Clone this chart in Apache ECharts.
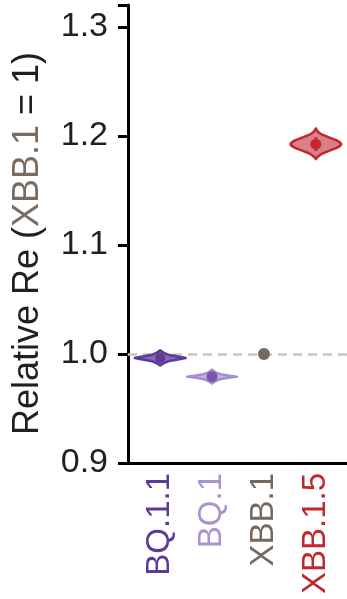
<!DOCTYPE html>
<html>
<head>
<meta charset="utf-8">
<script src="https://cdn.jsdelivr.net/npm/echarts@6/dist/echarts.min.js"></script>
<style>html,body{margin:0;padding:0;background:#fff;}#c{width:347px;height:599px;}</style>
</head>
<body>
<div id="c"></div>
<script>
const categories = ['BQ.1.1', 'BQ.1', 'XBB.1', 'XBB.1.5'];
const catColors = ['#5b3a9a', '#a994cd', '#76685c', '#c1272d'];
const medians = [0.9963, 0.9792, 1.0000, 1.1924];
const intervalLow = [0.9930, 0.9760, 1.0000, 1.1862];
const intervalHigh = [0.9995, 0.9825, 1.0000, 1.1988];
const yTicks = [0.9, 1.0, 1.1, 1.2, 1.3];

// violin profiles: y values and half-widths (category units)
const violinBQ11Y = [1.0033, 1.0010, 0.9990, 0.9977, 0.9963, 0.9949, 0.9936, 0.9916, 0.9895];
const violinBQ11W = [0, 0.07, 0.18, 0.34, 0.49, 0.34, 0.18, 0.07, 0];
const violinBQ1Y = [0.9856, 0.9834, 0.9815, 0.9803, 0.9792, 0.9781, 0.9769, 0.9750, 0.9728];
const violinBQ1W = [0, 0.06, 0.16, 0.31, 0.48, 0.31, 0.16, 0.06, 0];
const violinXBB15Y = [1.2068, 1.2043, 1.2016, 1.1988, 1.1961, 1.1942, 1.1924, 1.1906, 1.1887, 1.1860, 1.1832, 1.1805, 1.1787];
const violinXBB15W = [0, 0.03, 0.10, 0.24, 0.39, 0.46, 0.49, 0.46, 0.39, 0.24, 0.10, 0.03, 0];

const violinY = [violinBQ11Y, violinBQ1Y, null, violinXBB15Y];
const violinW = [violinBQ11W, violinBQ1W, null, violinXBB15W];
const violinFill = ['rgba(91,58,154,0.75)', 'rgba(176,157,210,0.8)', null, 'rgba(200,60,66,0.65)'];
const violinStroke = ['#5b3a9a', '#a48fcc', null, '#c1272d'];
const innerColor = ['#5b3a9a', '#7656ae', '#76685c', '#c1272d'];
const pointSize = [10, 11, 12, 11];

const font = "'Liberation Sans', Arial, sans-serif";
const chart = echarts.init(document.getElementById('c'));

const richX = {};
categories.forEach((c, i) => { richX['c' + i] = { color: catColors[i], fontSize: 33, fontFamily: font }; });

chart.setOption({
  animation: false,
  grid: { left: 128, right: 0, top: 5, bottom: 136 },
  xAxis: {
    type: 'value', min: -0.62, max: 3.6,
    splitLine: { show: false },
    axisTick: { show: false },
    axisLine: { show: true, onZero: false, lineStyle: { color: '#000', width: 3 } },
    axisLabel: {
      customValues: [0, 1, 2, 3],
      rotate: 90, margin: 10,
      formatter: v => { const i = Math.round(v); return '{c' + i + '|' + categories[i] + '}'; },
      rich: richX
    }
  },
  yAxis: {
    type: 'value', min: 0.9, max: 1.32, interval: 0.1,
    splitLine: { show: false },
    axisLine: { show: true, onZero: false, lineStyle: { color: '#000', width: 3 } },
    axisTick: { show: true, length: 10, lineStyle: { color: '#000', width: 3 } },
    axisLabel: {
      margin: 20, fontSize: 34, color: '#231f20', fontFamily: font,
      formatter: v => yTicks.some(t => Math.abs(t - v) < 1e-6) ? v.toFixed(1) : ''
    },
    name: '{a|Relative Re (}{b|XBB.1}{a| = 1)}',
    nameLocation: 'middle', nameGap: 82, nameRotate: 90,
    nameTextStyle: {
      padding: [0, 19, 0, 0],
      rich: {
        a: { fontSize: 36, color: '#231f20', fontFamily: font },
        b: { fontSize: 36, color: '#7a6c60', fontFamily: font }
      }
    }
  },
  series: [
    {
      type: 'line', data: [], silent: true, z: 1,
      markLine: {
        silent: true, z: 1, symbol: ['none', 'none'], label: { show: false },
        lineStyle: { type: [9, 6], color: '#c6c6c6', width: 2.5 },
        data: [{ yAxis: 1.0 }]
      }
    },
    {
      type: 'custom', z: 3,
      data: categories.map((c, i) => [i, medians[i]]),
      renderItem: (params, api) => {
        const i = api.value(0);
        const children = [];
        const ys = violinY[i], ws = violinW[i];
        if (ys) {
          const right = ys.map((y, k) => api.coord([i + ws[k], y]));
          const left = ys.map((y, k) => api.coord([i - ws[k], y])).reverse();
          children.push({
            type: 'polygon', shape: { points: right.concat(left) },
            style: { fill: violinFill[i], stroke: violinStroke[i], lineWidth: 2.5, lineJoin: 'round' }
          });
          const p1 = api.coord([i, intervalLow[i]]);
          const p2 = api.coord([i, intervalHigh[i]]);
          children.push({
            type: 'line', shape: { x1: p1[0], y1: p1[1], x2: p2[0], y2: p2[1] },
            style: { stroke: innerColor[i], lineWidth: 3 }
          });
        }
        return { type: 'group', children };
      }
    },
    {
      type: 'scatter', z: 6,
      data: categories.map((c, i) => ({
        value: [i, medians[i]],
        symbolSize: pointSize[i],
        itemStyle: { color: innerColor[i], opacity: 1 }
      }))
    }
  ]
});
</script>
</body>
</html>
